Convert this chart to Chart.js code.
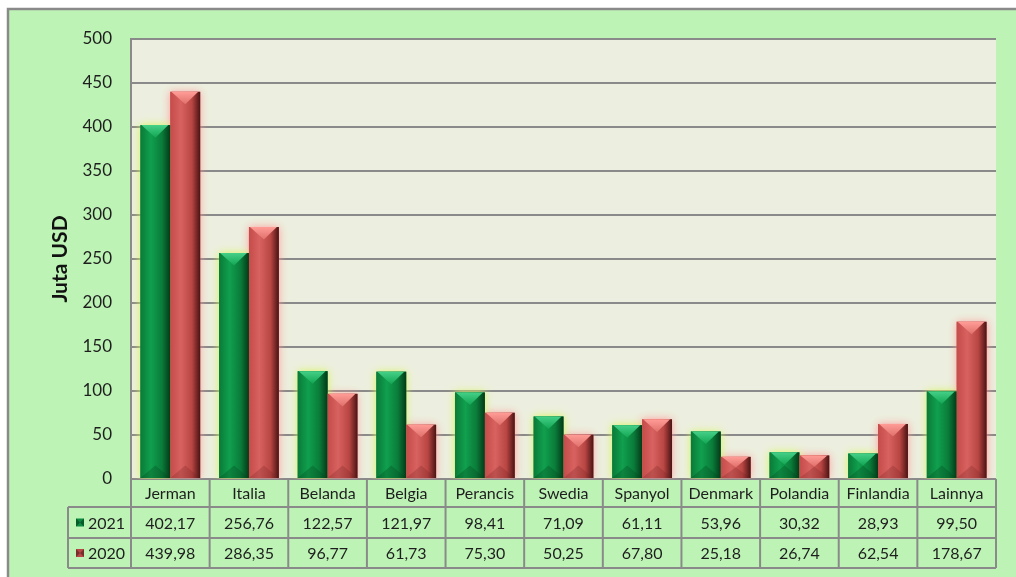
<!DOCTYPE html>
<html>
<head>
<meta charset="utf-8">
<style>
  html, body { margin: 0; padding: 0; background: #ffffff; }
  #wrap { width: 1016px; height: 577px; position: relative; }
</style>
<script src="https://cdn.jsdelivr.net/npm/chart.js@4.4.1/dist/chart.umd.min.js"></script>
</head>
<body>
<div id="wrap"><canvas id="c" width="1016" height="577"></canvas></div>
<script>
const categories = ['Jerman', 'Italia', 'Belanda', 'Belgia', 'Perancis', 'Swedia', 'Spanyol', 'Denmark', 'Polandia', 'Finlandia', 'Lainnya'];
const values2021 = [402.17, 256.76, 122.57, 121.97, 98.41, 71.09, 61.11, 53.96, 30.32, 28.93, 99.50];
const values2020 = [439.98, 286.35, 96.77, 61.73, 75.30, 50.25, 67.80, 25.18, 26.74, 62.54, 178.67];
const seriesNames = ['2021', '2020'];
const yTicks = [0, 50, 100, 150, 200, 250, 300, 350, 400, 450, 500];

const BG_GREEN = '#bdf4b5';
const PLOT_BG = '#ecefdf';
const LINE_GRAY = '#8a8a8a';
const FONT = 'Lato, "Noto Sans", sans-serif';

const styles = [
  { base: '#0b8a40', grad: ['#0a7a38', '#10a04e', '#0a7c3a', '#033a17'], top: ['#45d088', '#12a653'], bottom: 'rgba(4,70,30,0.3)', glow: 'rgba(215,245,90,1)', marker: '#0b8a40' },
  { base: '#c75250', grad: ['#c44c4a', '#d8625f', '#b94643', '#4a1313'], top: ['#ff9c96', '#e0706b'], bottom: 'rgba(110,30,30,0.25)', glow: 'rgba(255,150,150,0.9)', marker: '#b84846' }
];

function fmt(v) { return v.toFixed(2).replace('.', ','); }

const framePlugin = {
  id: 'frame',
  beforeDraw(chart) {
    const ctx = chart.ctx;
    const ca = chart.chartArea;
    ctx.save();
    ctx.fillStyle = '#ffffff';
    ctx.fillRect(0, 0, chart.width, chart.height);
    ctx.fillStyle = BG_GREEN;
    ctx.fillRect(8, 9, chart.width, chart.height);
    ctx.strokeStyle = LINE_GRAY;
    ctx.lineWidth = 2.5;
    ctx.beginPath();
    ctx.moveTo(8, chart.height + 5);
    ctx.lineTo(8, 9);
    ctx.lineTo(chart.width + 5, 9);
    ctx.stroke();
    ctx.fillStyle = PLOT_BG;
    ctx.fillRect(ca.left, ca.top, ca.right - ca.left, ca.bottom - ca.top);
    ctx.restore();
  },
  beforeDatasetDraw(chart, args) {
    const ctx = chart.ctx;
    ctx.save();
    ctx.shadowColor = styles[args.index].glow;
    ctx.shadowBlur = 8;
    ctx.shadowOffsetX = 0;
    ctx.shadowOffsetY = 0;
  },
  afterDatasetDraw(chart) {
    chart.ctx.restore();
  },
  afterDatasetsDraw(chart) {
    const ctx = chart.ctx;
    chart.data.datasets.forEach((ds, di) => {
      const meta = chart.getDatasetMeta(di);
      const st = styles[di];
      meta.data.forEach(el => {
        const p = el.getProps(['x', 'y', 'base', 'width'], true);
        const left = p.x - p.width / 2, right = p.x + p.width / 2;
        const top = Math.min(p.y, p.base), bot = Math.max(p.y, p.base);
        const h = bot - top;
        ctx.save();
        const g = ctx.createLinearGradient(left, 0, right, 0);
        g.addColorStop(0, st.grad[0]);
        g.addColorStop(0.35, st.grad[1]);
        g.addColorStop(0.72, st.grad[2]);
        g.addColorStop(1, st.grad[3]);
        ctx.fillStyle = g;
        ctx.fillRect(left, top, p.width, h);
        const bev = Math.min(p.width * 0.42, h / 2);
        // top bevel
        const tg = ctx.createLinearGradient(0, top, 0, top + bev);
        tg.addColorStop(0, st.top[0]);
        tg.addColorStop(1, st.top[1]);
        ctx.fillStyle = tg;
        ctx.beginPath();
        ctx.moveTo(left + 1, top);
        ctx.lineTo(right - 2, top);
        ctx.lineTo(p.x, top + bev);
        ctx.closePath();
        ctx.fill();
        // bottom bevel
        ctx.fillStyle = st.bottom;
        ctx.beginPath();
        ctx.moveTo(left, bot);
        ctx.lineTo(right, bot);
        ctx.lineTo(p.x, bot - bev);
        ctx.closePath();
        ctx.fill();
        ctx.restore();
      });
    });
  },
  afterDraw(chart) {
    const ctx = chart.ctx;
    const ca = chart.chartArea;
    const xs = chart.scales.x;
    const n = categories.length;
    const colW = (ca.right - ca.left) / n;
    const rowTop = [ca.bottom, 507, 538];
    const rowBot = [507, 538, 568];
    const tableLeft = 68;
    ctx.save();
    ctx.fillStyle = BG_GREEN;
    ctx.fillRect(ca.left, ca.bottom + 1, ca.right - ca.left, rowBot[0] - ca.bottom - 1);
    ctx.fillRect(tableLeft, rowTop[1], ca.right - tableLeft, rowBot[2] - rowTop[1]);
    ctx.strokeStyle = LINE_GRAY;
    ctx.lineWidth = 2;
    ctx.beginPath();
    ctx.moveTo(tableLeft, rowTop[1]); ctx.lineTo(ca.right, rowTop[1]);
    ctx.moveTo(tableLeft, rowTop[2]); ctx.lineTo(ca.right, rowTop[2]);
    ctx.moveTo(tableLeft, rowBot[2]); ctx.lineTo(ca.right, rowBot[2]);
    ctx.moveTo(tableLeft, rowTop[1]); ctx.lineTo(tableLeft, rowBot[2]);
    for (let i = 0; i <= n; i++) {
      const xx = ca.left + i * colW;
      ctx.moveTo(xx, ca.bottom); ctx.lineTo(xx, rowBot[2]);
    }
    ctx.stroke();
    ctx.fillStyle = '#1e1e1e';
    ctx.font = '16px ' + FONT;
    ctx.textAlign = 'center';
    ctx.textBaseline = 'middle';
    const rows = [values2021, values2020];
    for (let i = 0; i < n; i++) {
      const cx = xs.getPixelForValue(i);
      ctx.fillText(categories[i], cx, (rowTop[0] + rowBot[0]) / 2 + 1);
      rows.forEach((r, ri) => {
        ctx.fillText(fmt(r[i]), cx, (rowTop[ri + 1] + rowBot[ri + 1]) / 2 + 1);
      });
    }
    seriesNames.forEach((name, ri) => {
      const cy = (rowTop[ri + 1] + rowBot[ri + 1]) / 2;
      ctx.fillStyle = styles[ri].marker;
      ctx.fillRect(76, cy - 4, 8, 8);
      ctx.fillStyle = 'rgba(0,0,0,0.35)';
      ctx.beginPath();
      ctx.moveTo(76, cy - 4); ctx.lineTo(80, cy); ctx.lineTo(76, cy + 4); ctx.closePath();
      ctx.fill();
      ctx.beginPath();
      ctx.moveTo(84, cy - 4); ctx.lineTo(80, cy); ctx.lineTo(84, cy + 4); ctx.closePath();
      ctx.fill();
      ctx.fillStyle = '#1e1e1e';
      ctx.textAlign = 'left';
      ctx.fillText(name, 88, cy + 1);
    });
    ctx.restore();
  }
};

new Chart(document.getElementById('c'), {
  type: 'bar',
  data: {
    labels: categories,
    datasets: [
      { label: seriesNames[0], data: values2021, backgroundColor: styles[0].base, borderWidth: 0 },
      { label: seriesNames[1], data: values2020, backgroundColor: styles[1].base, borderWidth: 0 }
    ]
  },
  options: {
    responsive: false,
    animation: false,
    devicePixelRatio: 1,
    layout: { padding: { left: 0, right: 20, top: 39, bottom: 98 } },
    datasets: { bar: { categoryPercentage: 0.76, barPercentage: 1.0 } },
    plugins: { legend: { display: false }, tooltip: { enabled: false }, title: { display: false } },
    scales: {
      x: { display: false, offset: true },
      y: {
        min: 0, max: 500,
        afterFit(scale) { scale.width = 131; },
        afterBuildTicks(scale) { scale.ticks = yTicks.map(v => ({ value: v })); },
        ticks: { padding: 19, color: '#1e1e1e', font: { family: FONT, size: 17 } },
        grid: { color: LINE_GRAY, lineWidth: 2, drawTicks: false },
        border: { display: true, color: LINE_GRAY, width: 2 },
        title: { display: true, text: 'Juta USD', color: '#111', font: { family: FONT, size: 21, weight: 'bold' }, padding: { top: 48, bottom: 0 } }
      }
    }
  },
  plugins: [framePlugin]
});
</script>
</body>
</html>
